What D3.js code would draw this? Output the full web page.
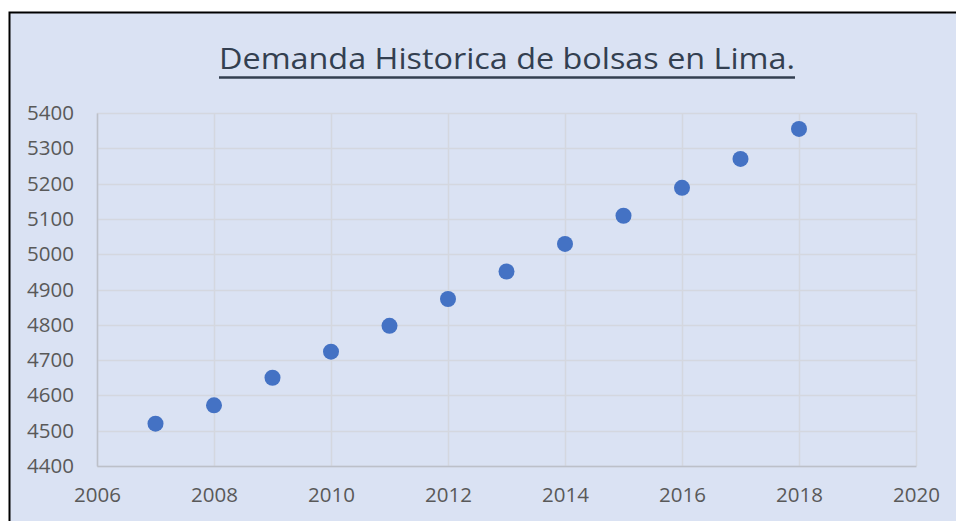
<!DOCTYPE html>
<html>
<head>
<meta charset="utf-8">
<script src="https://cdn.jsdelivr.net/npm/d3@7"></script>
<style>
body{margin:0;background:#fff;}
svg{display:block;}
</style>
</head>
<body>
<div id="chart"></div>
<script>
(function(){
"use strict";

// data
var years = [2007, 2008, 2009, 2010, 2011, 2012, 2013, 2014, 2015, 2016, 2017, 2018];
var demand = [4520, 4572, 4650, 4724, 4797, 4873, 4951, 5029, 5109, 5188, 5270, 5355];
var xTicks = [2006, 2008, 2010, 2012, 2014, 2016, 2018, 2020];
var yTicks = [4400, 4500, 4600, 4700, 4800, 4900, 5000, 5100, 5200, 5300, 5400];
var title = "Demanda Historica de bolsas en Lima.";

var W = 956, H = 521;
var plot = {left: 97, right: 916, top: 113, bottom: 466};
var font = "'Open Sans', sans-serif";

var svg = d3.select("#chart").append("svg")
	.attr("width", W)
	.attr("height", H);

// chart box
svg.append("rect")
	.attr("x", 9.5).attr("y", 12.5)
	.attr("width", W + 10).attr("height", H + 10)
	.attr("fill", "#dae2f3")
	.attr("stroke", "#000")
	.attr("stroke-width", 2);

var x = d3.scaleLinear().domain([2006, 2020]).range([plot.left, plot.right]);
var y = d3.scaleLinear().domain([4400, 5400]).range([plot.bottom, plot.top]);

// gridlines
svg.append("g")
	.selectAll("line.v")
	.data(xTicks)
	.enter().append("line")
		.attr("x1", function(d){ return Math.round(x(d)) + 0.5; })
		.attr("x2", function(d){ return Math.round(x(d)) + 0.5; })
		.attr("y1", plot.top).attr("y2", plot.bottom)
		.attr("stroke", "#d4d7df").attr("stroke-width", 1.5);

svg.append("g")
	.selectAll("line.h")
	.data(yTicks)
	.enter().append("line")
		.attr("y1", function(d){ return Math.round(y(d)) + 0.5; })
		.attr("y2", function(d){ return Math.round(y(d)) + 0.5; })
		.attr("x1", plot.left).attr("x2", plot.right)
		.attr("stroke", "#d4d7df").attr("stroke-width", 1.5);

// axes
var xAxis = d3.axisBottom(x).tickValues(xTicks).tickSize(0).tickPadding(21).tickFormat(d3.format("d"));
var yAxis = d3.axisLeft(y).tickValues(yTicks).tickSize(0).tickPadding(23).tickFormat(d3.format("d"));

var gx = svg.append("g")
	.attr("transform", "translate(0," + plot.bottom + ")")
	.call(xAxis);
var gy = svg.append("g")
	.attr("transform", "translate(" + plot.left + ",0)")
	.call(yAxis);

[gx, gy].forEach(function(g){
	g.select(".domain").attr("stroke", "#bcc0c9").attr("stroke-width", 1.5);
	g.selectAll("text")
		.attr("fill", "#595959")
		.style("font-family", font)
		.style("font-size", "20.5px");
});

// points
svg.append("g")
	.selectAll("circle")
	.data(years)
	.enter().append("circle")
		.attr("cx", function(d){ return x(d); })
		.attr("cy", function(d, i){ return y(demand[i]); })
		.attr("r", 8)
		.attr("fill", "#4472c4");

// title, fitted to the reference width, underline drawn by hand
var tx0 = 219, tx1 = 795;
svg.append("text")
	.attr("x", tx0)
	.attr("y", 69)
	.attr("textLength", tx1 - tx0)
	.attr("lengthAdjust", "spacingAndGlyphs")
	.attr("fill", "#333f50")
	.style("font-family", font)
	.style("font-size", "29.5px")
	.text(title);

svg.append("line")
	.attr("x1", tx0).attr("x2", tx1)
	.attr("y1", 77.5).attr("y2", 77.5)
	.attr("stroke", "#333f50")
	.attr("stroke-width", 2.5);

})();
</script>
</body>
</html>
